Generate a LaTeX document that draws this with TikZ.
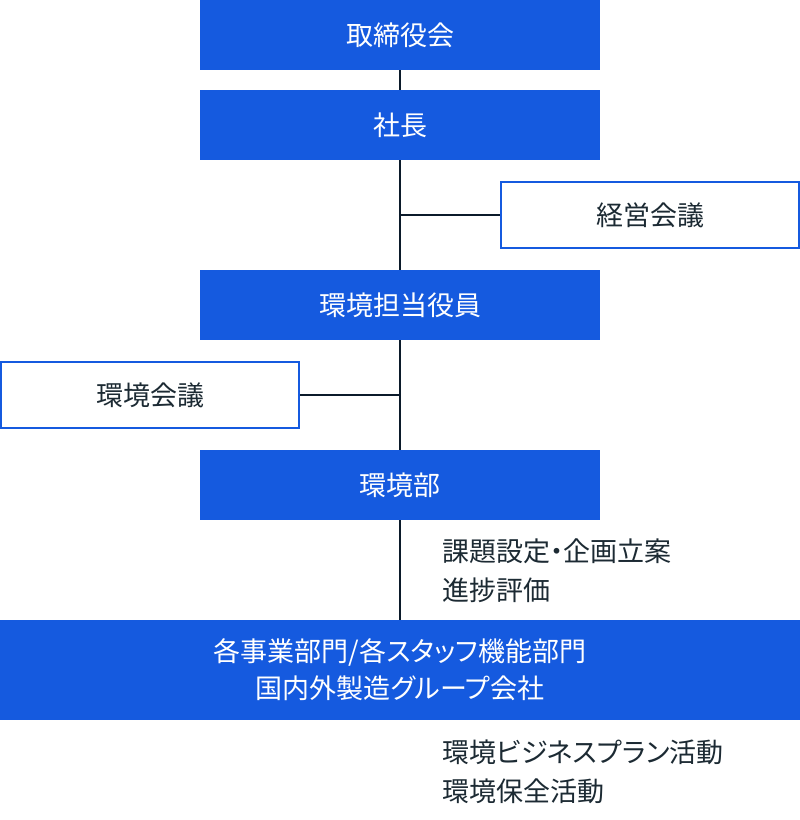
\documentclass[tikz,border=0pt]{standalone}
\usepackage{fontspec}
\setmainfont{Noto Sans CJK JP}[RawFeature=+palt]
\definecolor{bblue}{HTML}{155ADF}
\definecolor{ink}{HTML}{1C2A33}
\definecolor{lnk}{HTML}{0B1A2A}
\begin{document}
\begin{tikzpicture}[x=1pt,y=-1pt,
  solid/.style={fill=bblue,draw=none,text=white,inner sep=0pt,font=\fontsize{27}{37}\selectfont,align=center},
  hollow/.style={fill=white,draw=bblue,line width=2pt,text=ink,inner sep=0pt,font=\fontsize{27}{37}\selectfont},
  note/.style={text=ink,anchor=west,inner sep=0pt,align=left,font=\fontsize{27}{39}\selectfont},
  conn/.style={draw=lnk,line width=2pt}]
\useasboundingbox (0,0) rectangle (800,820);
\fill[white] (0,0) rectangle (800,820);
\node[solid,minimum width=400pt,minimum height=70pt] (board) at (400,35) {取締役会};
\node[solid,minimum width=400pt,minimum height=70pt] (pres) at (400,125) {社長};
\node[hollow,minimum width=298pt,minimum height=66pt] (keiei) at (650,215) {経営会議};
\node[solid,minimum width=400pt,minimum height=70pt] (officer) at (400,305) {環境担当役員};
\node[hollow,minimum width=298pt,minimum height=66pt] (kankyo) at (150,395) {環境会議};
\node[solid,minimum width=400pt,minimum height=70pt] (dept) at (400,485) {環境部};
\node[solid,minimum width=800pt,minimum height=100pt] (units) at (400,670) {各事業部門/各スタッフ機能部門\\国内外製造グループ会社};
\node[note] (n1) at (442,571) {課題設定・企画立案\\進捗評価};
\node[note] (n2) at (442,772) {環境ビジネスプラン活動\\環境保全活動};
\coordinate (j1) at (400,215);
\coordinate (j2) at (400,395);
\draw[conn] (board.south) -- (pres.north);
\draw[conn] (pres.south) -- (officer.north);
\draw[conn] (officer.south) -- (dept.north);
\draw[conn] (dept.south) -- (units.north);
\draw[conn,line width=1.6pt] (j1) -- (keiei.west);
\draw[conn,line width=1.6pt] (j2) -- (kankyo.east);
\end{tikzpicture}
\end{document}
